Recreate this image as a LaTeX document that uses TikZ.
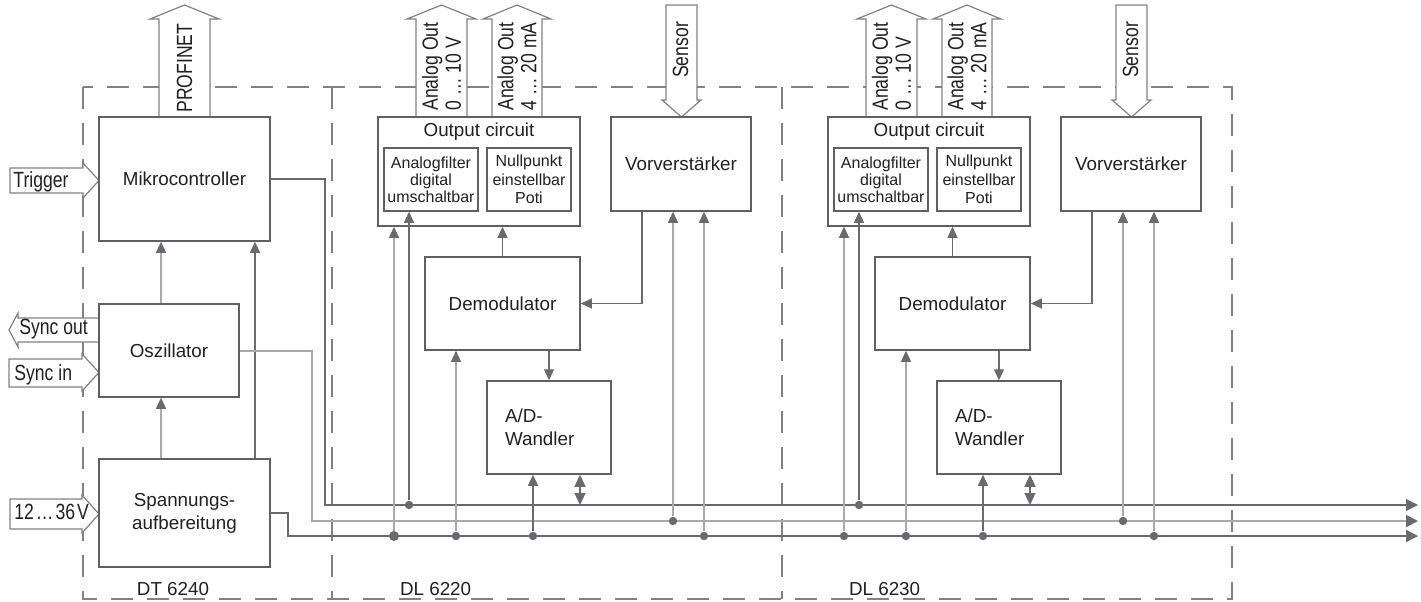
\documentclass[tikz,border=0pt]{standalone}
\usepackage{fontspec}
\setmainfont{Liberation Sans}
\newfontfamily\narrowfont[FakeStretch=0.8]{Liberation Sans}
\usetikzlibrary{arrows.meta}
\definecolor{lndark}{HTML}{696A6E}
\definecolor{lnlight}{HTML}{A7A9AC}
\definecolor{boxgray}{HTML}{5F6064}
\definecolor{frmgray}{HTML}{808285}
\definecolor{ink}{HTML}{231F20}

\begin{document}
\begin{tikzpicture}[
   x=0.5pt,y=-0.5pt,
   font=\fontsize{9.4}{11.5}\selectfont,
   text=ink,
   box/.style={draw=boxgray,line width=0.75pt,inner sep=0pt,align=center},
   small/.style={font=\fontsize{8}{8.4}\selectfont},
   lbl/.style={font=\narrowfont\fontsize{11}{11.5}\selectfont,inner sep=0pt},
   blk/.style={draw=frmgray,line width=0.6pt,fill=white},
   frame/.style={draw=frmgray,line width=0.7pt,dash pattern=on 11pt off 7pt},
   dk/.style={draw=lndark,line width=0.6pt},
   lt/.style={draw=lnlight,line width=0.6pt},
   to/.style={-{Triangle[length=5.5pt,width=5pt,color=lndark]}},
   dbl/.style={{Triangle[length=6pt,width=5.5pt,color=lndark]}-{Triangle[length=6pt,width=5.5pt,color=lndark]}},
   bus/.style={-{Triangle[length=6pt,width=6pt,color=lndark]}},
   dot/.style={circle,fill=lndark,inner sep=0pt,minimum size=4.2pt}]
\useasboundingbox (0,0) rectangle (1421,601);
\draw[frame] (83,87) rectangle (1232,599);
\draw[frame] (332,87) -- (332,599);
\draw[frame] (782,87) -- (782,599);
\draw[blk] (159,117) -- (159,19) -- (150,19) -- (184.5,5) -- (219,19) -- (210,19) -- (210,117);
\draw[blk] (10,168) -- (83,168) -- (83,163) -- (99,180.5) -- (83,198) -- (83,193) -- (10,193) -- cycle;
\draw[blk] (99,318) -- (18,318) -- (18,313) -- (9,330) -- (18,347) -- (18,342) -- (99,342);
\draw[blk] (9,359) -- (82,359) -- (82,354) -- (99,372.5) -- (82,391) -- (82,387) -- (9,387) -- cycle;
\draw[blk] (10,499) -- (82,499) -- (82,495) -- (99,514) -- (82,533) -- (82,529) -- (10,529) -- cycle;
\draw[blk] (416,117) -- (416,19) -- (407,19) -- (441.5,5) -- (476,19) -- (467,19) -- (467,117);
\draw[blk] (492,117) -- (492,19) -- (483,19) -- (517,5) -- (551,19) -- (542,19) -- (542,117);
\draw[blk] (666,5) -- (666,100) -- (662,100) -- (681.5,117) -- (701,100) -- (697,100) -- (697,5) -- cycle;
\draw[blk] (866,117) -- (866,19) -- (857,19) -- (891.5,5) -- (926,19) -- (917,19) -- (917,117);
\draw[blk] (942,117) -- (942,19) -- (933,19) -- (967,5) -- (1001,19) -- (992,19) -- (992,117);
\draw[blk] (1116,5) -- (1116,100) -- (1112,100) -- (1131.5,117) -- (1151,100) -- (1147,100) -- (1147,5) -- cycle;
\node[lbl,rotate=90,anchor=west] (pn) at (184.5,113) {PROFINET};
\node[lbl,anchor=base west] (trg) at (13,187) {Trigger};
\node[lbl,anchor=base west] (syo) at (19,334) {Sync out};
\node[lbl,anchor=base west] (syi) at (14,380) {Sync in};
\node[lbl,anchor=base west] (vin) at (14,519) {12\kern1pt…\kern1pt36\kern1pt V};
\node[lbl,rotate=90,anchor=west,align=left] (ao1) at (441.5,111) {Analog Out\\0 … 10 V};
\node[lbl,rotate=90,anchor=west,align=left] (ai1) at (517,111) {Analog Out\\4 … 20 mA};
\node[lbl,rotate=90] (sn1) at (680.5,50) {Sensor};
\node[lbl,rotate=90,anchor=west,align=left] (ao2) at (891.5,111) {Analog Out\\0 … 10 V};
\node[lbl,rotate=90,anchor=west,align=left] (ai2) at (967,111) {Analog Out\\4 … 20 mA};
\node[lbl,rotate=90] (sn2) at (1130.5,50) {Sensor};
\node[box,minimum width=85.5pt,minimum height=62pt] (mc) at (184.5,179) {Mikrocontroller};
\node[box,minimum width=70pt,minimum height=46.5pt] (osc) at (169,350.5) {Oszillator};
\node[box,minimum width=85.5pt,minimum height=54pt] (sp) at (184.5,513) {Spannungs-\\aufbereitung};
\node[box,minimum width=101pt,minimum height=54.5pt] (oc1) at (479,171.5) {};
\node (oct1) at (479,132) {Output circuit};
\node[box,small,minimum width=47pt,minimum height=31.5pt] (af1) at (431,179.5) {Analogfilter\\digital\\umschaltbar};
\node[box,small,minimum width=42pt,minimum height=31.5pt,font=\fontsize{8}{9.3}\selectfont] (nu1) at (529,179.5) {Nullpunkt\\einstellbar\\Poti};
\node[box,minimum width=70pt,minimum height=47pt] (vv1) at (681,164) {Vorverstärker};
\node[box,minimum width=77.5pt,minimum height=46.5pt] (dm1) at (502.5,303.5) {Demodulator};
\node[box,minimum width=62pt,minimum height=46.5pt,text width=44pt,inner xsep=9pt,align=left] (ad1) at (549,427.5) {A/D-\\Wandler};
\node[box,minimum width=101pt,minimum height=54.5pt] (oc2) at (929,171.5) {};
\node (oct2) at (929,132) {Output circuit};
\node[box,small,minimum width=47pt,minimum height=31.5pt] (af2) at (881,179.5) {Analogfilter\\digital\\umschaltbar};
\node[box,small,minimum width=42pt,minimum height=31.5pt,font=\fontsize{8}{9.3}\selectfont] (nu2) at (979,179.5) {Nullpunkt\\einstellbar\\Poti};
\node[box,minimum width=70pt,minimum height=47pt] (vv2) at (1131,164) {Vorverstärker};
\node[box,minimum width=77.5pt,minimum height=46.5pt] (dm2) at (952.5,303.5) {Demodulator};
\node[box,minimum width=62pt,minimum height=46.5pt,text width=44pt,inner xsep=9pt,align=left] (ad2) at (999,427.5) {A/D-\\Wandler};
\node[anchor=base] (dt) at (173,595) {DT 6240};
\node[anchor=base west] (dla) at (393,595) {DL 6220};
\node[anchor=base west] (dlb) at (842,595) {DL 6230};
\draw[lt,to] (161,0 |- sp.north) -- (161,0 |- osc.south);
\draw[lt,to] (161,0 |- osc.north) -- (161,0 |- mc.south);
\draw[dk,to] (255,0 |- sp.north) -- (255,0 |- mc.south);
\draw[dk,bus] (mc.east) -| (325,505) -- (1418,505);
\draw[lt,line width=1pt,bus] (osc.east) -| (312,521) -- (1418,521);
\draw[dk,bus] (sp.east) -| (288,536) -- (1418,536);
\node[dot,minimum size=5pt] (j1) at (394,536) {};
\node[dot] (j2) at (409,505) {};
\node[dot] (j3) at (456,536) {};
\node[dot] (j4) at (533,536) {};
\node[dot] (j5) at (673,521) {};
\node[dot] (j6) at (704,536) {};
\draw[lt,to] (j1) -- (j1 |- oc1.south);
\draw[dk,to] (j2) -- (j2 |- af1.south);
\draw[dk,to] (dm1.north) -- (dm1.north |- oc1.south);
\draw[lt,to] (j3) -- (j3 |- dm1.south);
\draw[dk,to] (549,0 |- dm1.south) -- (ad1.north);
\draw[dk,to] (j4) -- (j4 |- ad1.south);
\draw[dk,dbl] (580,0 |- ad1.south) -- (580,505);
\draw[dk,to] (642,0 |- vv1.south) |- (dm1.east);
\draw[lt,to] (j5) -- (j5 |- vv1.south);
\draw[lt,to] (j6) -- (j6 |- vv1.south);
\node[dot] (k1) at (844,536) {};
\node[dot] (k2) at (859,505) {};
\node[dot] (k3) at (906,536) {};
\node[dot] (k4) at (983,536) {};
\node[dot] (k5) at (1123,521) {};
\node[dot] (k6) at (1154,536) {};
\draw[lt,to] (k1) -- (k1 |- oc2.south);
\draw[dk,to] (k2) -- (k2 |- af2.south);
\draw[dk,to] (dm2.north) -- (dm2.north |- oc2.south);
\draw[lt,to] (k3) -- (k3 |- dm2.south);
\draw[dk,to] (999,0 |- dm2.south) -- (ad2.north);
\draw[dk,to] (k4) -- (k4 |- ad2.south);
\draw[dk,dbl] (1030,0 |- ad2.south) -- (1030,505);
\draw[dk,to] (1092,0 |- vv2.south) |- (dm2.east);
\draw[lt,to] (k5) -- (k5 |- vv2.south);
\draw[lt,to] (k6) -- (k6 |- vv2.south);
\end{tikzpicture}
\end{document}
